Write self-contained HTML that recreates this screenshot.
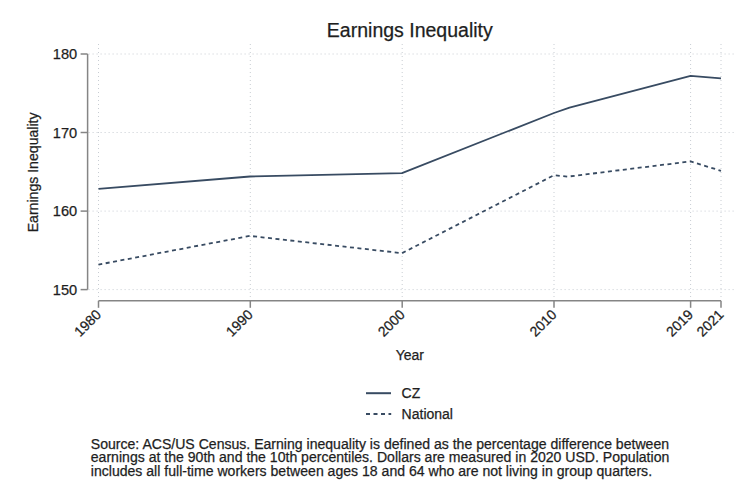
<!DOCTYPE html>
<html><head><meta charset="utf-8"><style>
html,body{margin:0;padding:0;background:#fff;}
svg{display:block;font-family:"Liberation Sans",sans-serif;}
text{fill:#1e1e1e;stroke:#1e1e1e;stroke-width:0.25px;}
</style></head><body>
<svg width="750" height="500" viewBox="0 0 750 500">
<rect width="750" height="500" fill="#fff"/>
<line x1="88.6" y1="54.0" x2="735" y2="54.0" stroke="#c8cdd3" stroke-width="1" stroke-dasharray="1 3"/>
<line x1="88.6" y1="132.5" x2="735" y2="132.5" stroke="#c8cdd3" stroke-width="1" stroke-dasharray="1 3"/>
<line x1="88.6" y1="211.1" x2="735" y2="211.1" stroke="#c8cdd3" stroke-width="1" stroke-dasharray="1 3"/>
<line x1="88.6" y1="289.6" x2="735" y2="289.6" stroke="#c8cdd3" stroke-width="1" stroke-dasharray="1 3"/>
<line x1="98.5" y1="44" x2="98.5" y2="299.8" stroke="#c8cdd3" stroke-width="1" stroke-dasharray="1 3"/>
<line x1="250.3" y1="44" x2="250.3" y2="299.8" stroke="#c8cdd3" stroke-width="1" stroke-dasharray="1 3"/>
<line x1="402.2" y1="44" x2="402.2" y2="299.8" stroke="#c8cdd3" stroke-width="1" stroke-dasharray="1 3"/>
<line x1="554.0" y1="44" x2="554.0" y2="299.8" stroke="#c8cdd3" stroke-width="1" stroke-dasharray="1 3"/>
<line x1="690.6" y1="44" x2="690.6" y2="299.8" stroke="#c8cdd3" stroke-width="1" stroke-dasharray="1 3"/>
<line x1="721.0" y1="44" x2="721.0" y2="299.8" stroke="#c8cdd3" stroke-width="1" stroke-dasharray="1 3"/>
<line x1="87.6" y1="54.0" x2="87.6" y2="289.6" stroke="#858585" stroke-width="1.5"/>
<line x1="80.6" y1="54.0" x2="87.6" y2="54.0" stroke="#858585" stroke-width="1.5"/>
<text x="77.2" y="59.2" text-anchor="end" font-size="14.6">180</text>
<line x1="80.6" y1="132.5" x2="87.6" y2="132.5" stroke="#858585" stroke-width="1.5"/>
<text x="77.2" y="137.7" text-anchor="end" font-size="14.6">170</text>
<line x1="80.6" y1="211.1" x2="87.6" y2="211.1" stroke="#858585" stroke-width="1.5"/>
<text x="77.2" y="216.3" text-anchor="end" font-size="14.6">160</text>
<line x1="80.6" y1="289.6" x2="87.6" y2="289.6" stroke="#858585" stroke-width="1.5"/>
<text x="77.2" y="294.8" text-anchor="end" font-size="14.6">150</text>
<line x1="98.5" y1="300.8" x2="721.0" y2="300.8" stroke="#858585" stroke-width="1.5"/>
<line x1="98.5" y1="300.8" x2="98.5" y2="307.8" stroke="#858585" stroke-width="1.5"/>
<text transform="translate(102.0,315.40000000000003) rotate(-45)" text-anchor="end" font-size="14">1980</text>
<line x1="250.3" y1="300.8" x2="250.3" y2="307.8" stroke="#858585" stroke-width="1.5"/>
<text transform="translate(253.8,315.40000000000003) rotate(-45)" text-anchor="end" font-size="14">1990</text>
<line x1="402.2" y1="300.8" x2="402.2" y2="307.8" stroke="#858585" stroke-width="1.5"/>
<text transform="translate(405.7,315.40000000000003) rotate(-45)" text-anchor="end" font-size="14">2000</text>
<line x1="554.0" y1="300.8" x2="554.0" y2="307.8" stroke="#858585" stroke-width="1.5"/>
<text transform="translate(557.5,315.40000000000003) rotate(-45)" text-anchor="end" font-size="14">2010</text>
<line x1="690.6" y1="300.8" x2="690.6" y2="307.8" stroke="#858585" stroke-width="1.5"/>
<text transform="translate(694.1,315.40000000000003) rotate(-45)" text-anchor="end" font-size="14">2019</text>
<line x1="721.0" y1="300.8" x2="721.0" y2="307.8" stroke="#858585" stroke-width="1.5"/>
<text transform="translate(724.5,315.40000000000003) rotate(-45)" text-anchor="end" font-size="14">2021</text>
<polyline points="98.5,188.9 250.0,176.5 402.0,173.1 554.0,113.0 569.5,107.6 690.6,75.9 721.0,78.3" fill="none" stroke="#384b62" stroke-width="1.8" stroke-linejoin="round"/>
<polyline points="98.5,264.6 250.0,235.9 402.0,253.2 554.0,175.2 568.0,176.6 690.6,161.4 721.0,170.8" fill="none" stroke="#384b62" stroke-width="1.8" stroke-dasharray="4 3.5" stroke-dashoffset="0.2" stroke-linejoin="round"/>
<text x="409.8" y="36.7" text-anchor="middle" font-size="19.5">Earnings Inequality</text>
<text transform="translate(38.3,172.4) rotate(-90)" text-anchor="middle" font-size="14.1">Earnings Inequality</text>
<text x="409.8" y="360.4" text-anchor="middle" font-size="14">Year</text>
<line x1="366" y1="393.2" x2="391" y2="393.2" stroke="#384b62" stroke-width="2"/>
<line x1="366" y1="413.9" x2="391.2" y2="413.9" stroke="#384b62" stroke-width="2" stroke-dasharray="4 3.5"/>
<text x="401.6" y="398" font-size="14">CZ</text>
<text x="401.6" y="419" font-size="14">National</text>
<text x="90.8" y="448.6" font-size="14.07">Source: ACS/US Census. Earning inequality is defined as the percentage difference between</text>
<text x="90.8" y="462.1" font-size="14.07">earnings at the 90th and the 10th percentiles. Dollars are measured in 2020 USD. Population</text>
<text x="90.8" y="475.6" font-size="14.07">includes all full-time workers between ages 18 and 64 who are not living in group quarters.</text>
</svg>
</body></html>
